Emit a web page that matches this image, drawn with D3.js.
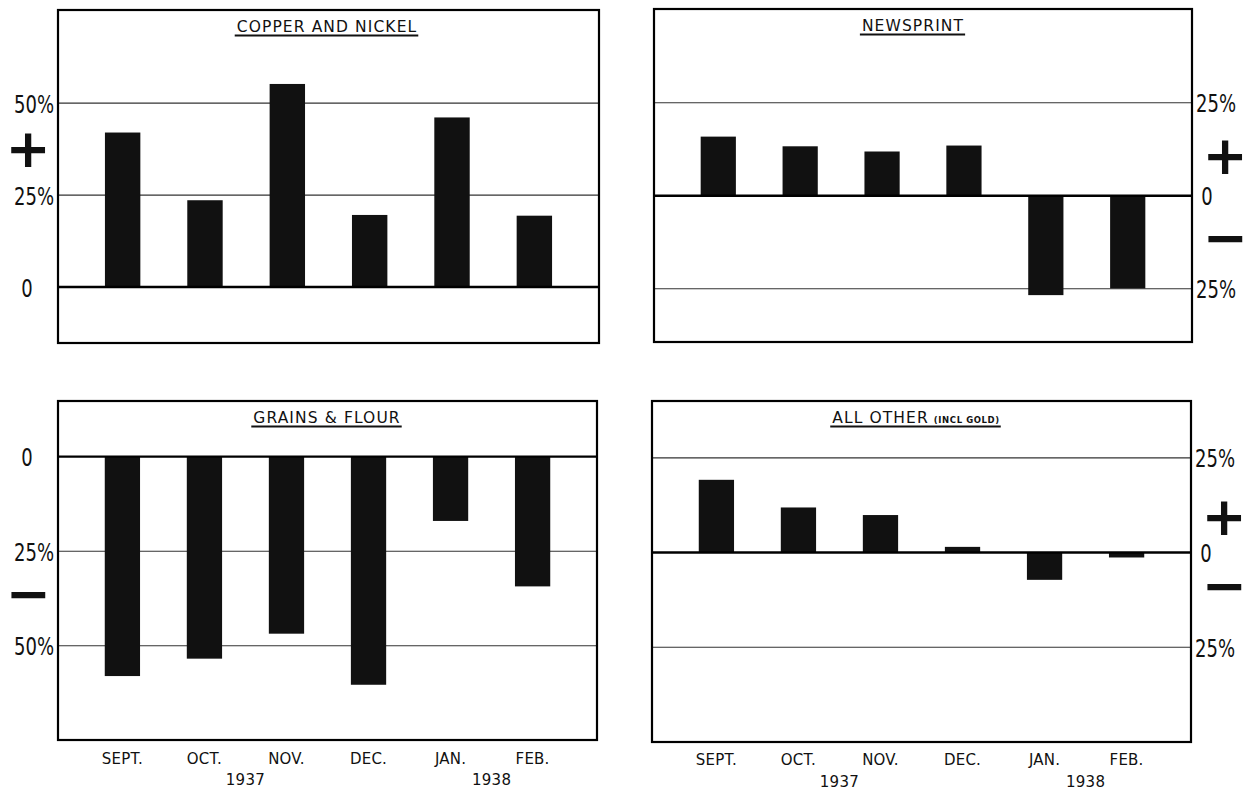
<!DOCTYPE html>
<html>
<head>
<meta charset="utf-8">
<script src="https://cdn.jsdelivr.net/npm/d3@7"></script>
<style>
  html, body { margin: 0; padding: 0; background: #fff; }
  svg { display: block; }
  .tick-label { font-family: 'Liberation Sans Narrow', 'DejaVu Sans Condensed', 'DejaVu Sans', sans-serif; font-size: 25px; fill: #111; }
  .title { font-family: 'DejaVu Sans', sans-serif; font-size: 15.5px; fill: #111; letter-spacing: 1.1px; }
  .month { font-family: 'DejaVu Sans', sans-serif; font-size: 15px; fill: #111; letter-spacing: 0.2px; }
  .year { font-family: 'DejaVu Sans', sans-serif; font-size: 15px; fill: #111; letter-spacing: 0.3px; }
  .sign { font-family: 'DejaVu Sans', sans-serif; font-weight: bold; font-size: 54px; fill: #111; }
</style>
</head>
<body>
<svg id="chart" width="1250" height="790"></svg>
<script>
// ---------------- data ----------------
const months = ["SEPT.", "OCT.", "NOV.", "DEC.", "JAN.", "FEB."];
const years = ["1937", "1938"];
const yearAfterMonth = ["OCT.", "JAN."]; // each year label sits between this month and the next

const copperNickel = [42.0, 23.6, 55.2, 19.6, 46.1, 19.4];
const newsprint    = [15.9, 13.3, 11.9, 13.5, -26.7, -24.9];
const grainsFlour  = [-58.0, -53.4, -46.8, -60.3, -17.0, -34.3];
const allOther     = [19.2, 11.9, 9.9, 1.5, -7.2, -1.3];

const titles = ["COPPER AND NICKEL", "NEWSPRINT", "GRAINS & FLOUR", "ALL OTHER"];
const titleNote = "(INCL GOLD)";

const ticksCopper = [50, 25, 0];
const ticksNews   = [25, 0, -25];
const ticksGrains = [0, -25, -50];
const ticksOther  = [25, 0, -25];

// ---------------- layout ----------------
const panels = [
  { values: copperNickel, title: titles[0], ticks: ticksCopper, grid: [50, 25],
    x0: 58, x1: 599, y0: 10, y1: 343, domain: [-15.2, 75.3], side: "left",
    titleX: 327, signs: [{ s: "+", v: 37.5 }], showMonths: false },
  { values: newsprint, title: titles[1], ticks: ticksNews, grid: [25, -25],
    x0: 654, x1: 1192, y0: 9, y1: 342, domain: [-39.3, 50.2], side: "right",
    titleX: 913, signs: [{ s: "+", v: 10.7 }, { s: "\u2212", v: -11.4 }], showMonths: false },
  { values: grainsFlour, title: titles[2], ticks: ticksGrains, grid: [-25, -50],
    x0: 58, x1: 597, y0: 401, y1: 740, domain: [-74.9, 14.7], side: "left",
    titleX: 327, signs: [{ s: "\u2212", v: -36.3 }], showMonths: true, monthY: 764, yearY: 785 },
  { values: allOther, title: titles[3], note: titleNote, ticks: ticksOther, grid: [25, -25],
    x0: 652, x1: 1191, y0: 401, y1: 742, domain: [-50.0, 40.0], side: "right",
    titleX: 916, signs: [{ s: "+", v: 9.4 }, { s: "\u2212", v: -9.0 }], showMonths: true, monthY: 765, yearY: 787 }
];

const svg = d3.select("#chart");
svg.append("rect").attr("width", 1250).attr("height", 790).attr("fill", "#fff");

panels.forEach(p => {
  const g = svg.append("g");
  const x = d3.scaleBand().domain(months).range([p.x0, p.x1]).paddingInner(0.57).paddingOuter(0.57);
  const y = d3.scaleLinear().domain(p.domain).range([p.y1, p.y0]);

  // grid lines
  g.selectAll("line.grid").data(p.grid).enter().append("line")
    .attr("x1", p.x0).attr("x2", p.x1)
    .attr("y1", d => y(d)).attr("y2", d => y(d))
    .attr("stroke", "#333").attr("stroke-width", 1.1);

  // bars
  g.selectAll("rect.bar").data(p.values).enter().append("rect")
    .attr("x", (d, i) => x(months[i]))
    .attr("width", x.bandwidth())
    .attr("y", d => y(Math.max(0, d)))
    .attr("height", d => Math.abs(y(d) - y(0)))
    .attr("fill", "#111");

  // zero line
  g.append("line").attr("x1", p.x0).attr("x2", p.x1)
    .attr("y1", y(0)).attr("y2", y(0))
    .attr("stroke", "#000").attr("stroke-width", 2.4);

  // frame
  g.append("rect").attr("x", p.x0).attr("y", p.y0)
    .attr("width", p.x1 - p.x0).attr("height", p.y1 - p.y0)
    .attr("fill", "none").attr("stroke", "#000").attr("stroke-width", 2.2);

  // axis tick labels
  const fmt = d => d === 0 ? "0" : Math.abs(d) + "%";
  const axis = (p.side === "left" ? d3.axisLeft(y) : d3.axisRight(y))
    .tickValues(p.ticks).tickFormat(fmt).tickSize(0).tickPadding(4);
  const ax = g.append("g")
    .attr("transform", `translate(${p.side === "left" ? p.x0 : p.x1},0)`)
    .call(axis);
  ax.select(".domain").remove();
  ax.attr("font-size", null).attr("font-family", null);
  ax.selectAll("text").attr("class", "tick-label").attr("fill", null).attr("dy", "0.36em");
  ax.selectAll(".tick").filter(d => d === 0).select("text")
    .attr("text-anchor", "middle")
    .attr("x", p.side === "left" ? -31 : 15);
  // condensed look of the hand lettering
  ax.selectAll("text").each(function () {
    const len = this.getComputedTextLength();
    d3.select(this).attr("textLength", len * 0.8).attr("lengthAdjust", "spacingAndGlyphs");
  });

  // plus / minus signs
  const signX = p.side === "left" ? p.x0 - 30 : p.x1 + 33;
  p.signs.forEach(sg => {
    g.append("text").attr("class", "sign").attr("text-anchor", "middle")
      .attr("x", signX).attr("y", y(sg.v) + 54 * 0.33).text(sg.s);
  });

  // title
  const tt = g.append("text").attr("class", "title").attr("text-anchor", "middle")
    .attr("x", p.titleX).attr("y", p.y0 + 22).text(p.title);
  if (p.note) {
    tt.append("tspan").attr("font-size", "8.5px").attr("dx", 5).attr("font-weight", "bold")
      .attr("letter-spacing", "0.6px").text(p.note);
  }
  const tb = tt.node().getBBox();
  g.append("line").attr("x1", tb.x - 2).attr("x2", tb.x + tb.width + 1)
    .attr("y1", p.y0 + 25.5).attr("y2", p.y0 + 25.5)
    .attr("stroke", "#111").attr("stroke-width", 1.8);

  // months & years
  if (p.showMonths) {
    g.selectAll("text.month").data(months).enter().append("text")
      .attr("class", "month").attr("text-anchor", "middle")
      .attr("x", d => x(d) + x.bandwidth() / 2).attr("y", p.monthY).text(d => d);
    g.selectAll("text.year").data(years).enter().append("text")
      .attr("class", "year").attr("text-anchor", "middle")
      .attr("x", (d, i) => {
        const m = yearAfterMonth[i];
        const nxt = months[months.indexOf(m) + 1];
        return (x(m) + x(nxt)) / 2 + x.bandwidth() / 2;
      })
      .attr("y", p.yearY).text(d => d);
  }
});
</script>
</body>
</html>
